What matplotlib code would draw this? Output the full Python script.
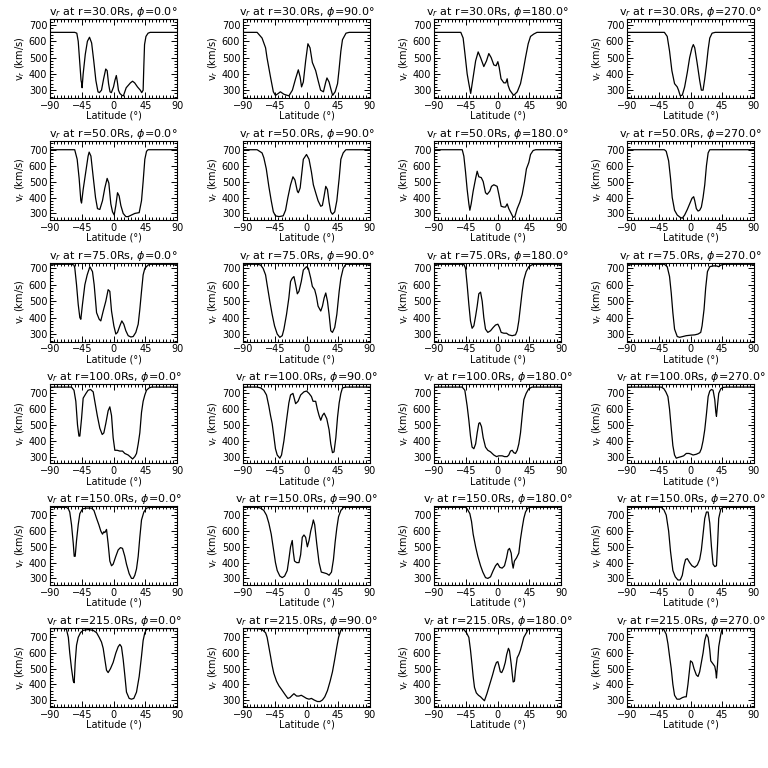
import matplotlib
matplotlib.use('Agg')
import matplotlib.pyplot as plt
from matplotlib.ticker import MultipleLocator

radii = [30.0, 50.0, 75.0, 100.0, 150.0, 215.0]
phis = [0.0, 90.0, 180.0, 270.0]
y_limits = [(252, 737), (260, 756), (254, 735), (257, 757), (257, 757), (255, 760)]
x_ticks = [-90, -45, 0, 45, 90]
y_ticks = [300, 400, 500, 600, 700]

# r = 30 Rs
lat_r30_p0 = [-90,-55,-52,-50,-48,-46,-45,-44.5,-43,-40,-37,-34,-31,-28,-25,-22,-20,-17,-14,-11,-9,-7,-5,-3,0,2,4,5.5,7,9,12,14,16,18,21,24,27,30,34,38,40,42,43,44,46,49,52,90]
v_r30_p0 = [655,655,650,600,480,360,340,315,400,520,600,625,590,480,360,290,285,300,370,430,420,340,290,285,320,360,390,350,300,280,268,265,290,315,330,345,355,345,320,300,285,300,450,580,630,650,655,655]
lat_r30_p90 = [-90,-70,-63,-58,-56,-51,-47,-44,-40,-37,-32,-25,-20,-15.5,-11.6,-9,-7,-4.5,-1.2,2,5,8.3,13,16.4,20,24,27.3,29,32,34.4,37,40.6,44,46,48.7,51,56,60.5,90]
v_r30_p90 = [655,655,620,560,500,380,290,268,280,290,275,265,300,370,425,380,320,350,480,585,560,470,420,360,300,290,350,375,350,310,268,290,340,420,540,610,650,655,655]
lat_r30_p180 = [-90,-52,-48.7,-46.3,-43,-40.6,-38,-34.5,-31,-27.4,-24,-19.4,-15.6,-12.3,-9,-5.2,-2,0.5,2.4,5,9,11.8,13.7,15,17.5,20.8,23,28,32.6,36.4,39.7,43.5,46.8,51.5,56,90]
v_r30_p180 = [655,655,620,530,400,340,280,380,480,535,500,445,480,525,500,455,450,475,440,370,345,345,370,330,300,280,268,290,340,420,500,585,630,645,655,655]
lat_r30_p270 = [-90,-37,-33,-29.7,-26.4,-22.6,-18.8,-17,-14.5,-11.6,-8.3,-4.5,-1.2,2.1,4,6,9.3,13,15.4,17.8,20.2,22.5,25,27.3,30.6,35,90]
v_r30_p270 = [655,655,630,540,420,340,320,300,265,270,320,410,500,560,580,560,470,360,300,300,370,450,550,620,650,655,655]

# r = 50 Rs
lat_r50_p0 = [-90,-55,-51.5,-48.7,-46.3,-45.3,-43,-39,-36,-34.5,-32,-28.8,-25.5,-22.7,-19.4,-15.6,-12.3,-9,-6.6,-3.8,-1.4,1,3.3,5.7,8,10.4,13.7,17.5,20.8,25.5,30.2,36.4,39.7,42,44.4,46.8,49,90]
v_r50_p0 = [700,700,640,520,380,365,450,570,660,685,660,530,400,330,325,380,460,520,490,360,310,290,350,430,410,350,300,280,280,290,300,305,380,500,640,690,700,700]
lat_r50_p90 = [-90,-70,-63,-60.5,-57,-53.4,-50,-47,-44,-39,-33,-29.7,-26.4,-22.6,-19.2,-16.4,-13,-11.6,-9,-7,-4.5,0,3.6,7,9.7,13,16.4,20.2,22.5,25,27.3,29.7,32,34.4,36.8,40,43,46.3,48.7,52,55.8,90]
v_r50_p90 = [700,700,680,650,580,470,380,310,285,280,285,320,400,480,530,510,440,430,460,540,640,670,640,560,480,430,380,345,350,410,470,450,370,310,295,310,380,520,640,680,700,700]
lat_r50_p180 = [-90,-50,-47.7,-45.3,-43,-40.6,-39.2,-37.3,-34.5,-31,-28.8,-26.5,-23,-20.3,-17,-14.6,-10.9,-8.5,-5.2,-0.5,1.9,5.2,9,11.3,13.7,16,19.4,22.2,24.6,27.9,31.6,35,38.3,41,44.4,46.8,50.5,54,90]
v_r50_p180 = [700,700,660,560,450,360,320,360,440,520,565,530,525,500,430,420,440,470,480,470,420,345,340,340,360,330,300,275,280,330,370,420,500,580,620,670,695,700,700]
lat_r50_p270 = [-90,-37,-34.4,-31,-28.3,-25.9,-22.6,-18.8,-14.5,-11.6,-8.3,-4.5,-1.2,2.1,4.5,6,8.3,10.7,13,15.4,17.8,20.2,22.6,25,27.3,90]
v_r50_p270 = [700,700,690,630,520,400,320,290,275,270,290,325,360,395,405,380,330,315,320,340,400,480,600,680,700,700]

# r = 75 Rs
lat_r75_p0 = [-90,-59.5,-56,-54.8,-52.4,-50,-47.7,-46.3,-44,-40.6,-37.3,-33.5,-29.8,-27.4,-24,-20.3,-18,-14.6,-10.9,-7.6,-5.2,-2.8,0.5,3.3,5.7,9,11.8,14.6,17.5,20.8,24.6,27.9,31.6,35,37.3,39.7,42,44.4,49,51.5,90]
v_r75_p0 = [725,725,720,700,600,480,400,390,480,600,660,710,680,600,430,390,380,440,500,570,560,440,350,300,310,350,380,360,320,290,282,285,310,360,450,560,660,700,720,725,725]
lat_r75_p90 = [-90,-70,-65,-61.5,-58,-55.8,-52,-48.7,-45.3,-41.5,-37.8,-34.4,-32,-28.3,-25,-22.6,-20.2,-17.8,-15.4,-13,-10.7,-7.4,-4.5,0,2.6,6,8.3,11.6,14,16.4,20.2,22.6,25,27.3,29.7,32,34.4,36.8,40,43,46.3,48.7,52,55.8,90]
v_r75_p90 = [725,725,720,700,660,600,500,420,350,300,280,290,330,420,520,620,640,650,600,545,560,620,690,710,700,640,590,570,530,470,440,470,520,550,500,420,320,310,340,420,560,640,700,725,725]
lat_r75_p180 = [-90,-47.7,-45.3,-43,-40.6,-38.3,-36,-33.5,-31,-28.8,-26.5,-24,-21.7,-19.4,-17,-13.7,-9.9,-6.1,-2.8,0.5,2.8,5.2,9,12.8,16,20.8,25.5,27.9,30.2,32.6,35,37.3,40.6,44.4,49,51.5,90]
v_r75_p180 = [725,725,700,600,480,380,335,350,410,470,545,555,500,400,330,310,320,340,355,360,340,310,305,305,295,290,295,320,380,470,560,630,680,710,722,725,725]
lat_r75_p270 = [-90,-37,-33,-29.7,-27.3,-25,-22.6,-18.8,-15.4,-10.7,-6,0,6,10.7,14.5,16.4,19.2,21.5,24,27.3,32,36.8,40,43,48.7,90]
v_r75_p270 = [725,725,710,650,550,430,330,285,280,285,290,293,295,300,310,350,450,580,680,710,715,715,710,720,725,725]

# r = 100 Rs
lat_r100_p0 = [-90,-59.5,-56,-53.4,-51,-49,-47.7,-45.3,-43,-39,-36,-32.6,-28.8,-26.5,-23,-19.4,-16,-13.7,-10.9,-7.6,-5.2,-2.8,-0.5,1.9,5.2,9,12.8,16,20.8,24.6,27,30.2,32.6,35,37.3,39.7,42,44.4,46.8,50.5,54,90]
v_r100_p0 = [740,740,720,650,500,430,430,540,670,700,720,725,710,650,560,480,440,450,510,590,615,560,420,340,340,335,335,320,310,295,285,300,320,380,450,580,650,690,720,735,740,740]
lat_r100_p90 = [-90,-70,-65,-60.5,-56.7,-53.4,-51,-48.7,-46.3,-44,-41.5,-37.8,-35.4,-32,-28.3,-25,-22.6,-19.2,-15.4,-12,-8.3,-3.6,0,3.6,7,9.3,13,15.4,17.8,20.2,22.6,25,28.7,32,34.4,36.8,39,41.6,44,46.3,48.7,51,55.8,90]
v_r100_p90 = [740,740,735,720,690,620,560,510,430,350,310,290,310,400,530,640,690,700,635,650,690,710,715,700,680,650,650,600,560,530,560,575,540,470,380,325,330,420,550,640,700,735,740,740]
lat_r100_p180 = [-90,-50,-46.3,-43,-40.6,-38.3,-36,-33.5,-31,-28.8,-26.5,-25,-22.7,-20.3,-17,-13.7,-9.9,-5.2,-1.4,1.9,6.6,9.9,13.7,16,18.4,20.8,23,25.5,27.9,30.2,32.6,35,37.3,40.6,44.4,49,90]
v_r100_p180 = [740,740,720,620,530,430,360,350,380,450,510,515,490,420,360,340,330,310,300,305,305,300,300,310,335,340,325,320,340,380,450,560,660,700,730,740,740]
lat_r100_p270 = [-90,-41.5,-37.8,-35,-32,-29.7,-27.3,-25,-22.6,-20.2,-17,-13,-9.7,-6,-2.1,1.2,3.6,8.3,13,15.4,17.8,20.2,22.6,25,27.3,29.7,32,34.4,35.9,36.8,38.2,40,43,46.3,51,90]
v_r100_p270 = [740,740,730,710,680,600,480,370,310,290,295,300,305,320,320,315,310,315,325,350,400,470,570,680,715,725,720,660,580,555,620,700,730,738,740,740]

# r = 150 Rs
lat_r150_p0 = [-90,-66.6,-64,-62,-59.5,-57,-55.7,-54.3,-52.4,-50,-47.7,-44,-38.3,-31,-27.7,-24,-20.8,-18,-15.6,-13.7,-12.3,-9.9,-7.6,-5.2,-2.8,-0.5,3.3,6.6,9.9,12.8,16,18.4,22.2,25.5,27.9,30.2,32.6,35,37.3,39.7,43,46.8,51.5,90]
v_r150_p0 = [750,750,740,720,640,520,440,440,540,640,710,740,745,745,730,680,640,600,580,595,590,610,520,410,380,390,440,480,495,490,440,390,330,300,300,320,360,440,560,670,720,745,750,750]
lat_r150_p90 = [-90,-70,-65,-60.5,-56.7,-53.4,-50,-47,-44,-41.5,-37.8,-34.4,-31,-27.3,-25,-22.6,-20.2,-18.8,-17,-14,-10.7,-8.3,-6,-3.6,-1.2,1.2,3.6,6,8.3,9.7,11.6,14.5,17.8,21,25,28.7,32,35.4,38.2,40.6,43,45.4,48.7,52.5,90]
v_r150_p90 = [750,750,745,730,700,650,580,490,400,350,315,305,315,350,420,500,540,470,410,400,400,450,560,575,560,500,540,600,640,670,640,520,400,340,335,330,320,340,420,530,620,690,730,750,750]
lat_r150_p180 = [-90,-45.3,-43,-39.2,-36.8,-34.5,-31,-27.9,-24,-20.8,-17,-13.7,-9.9,-6.1,-2.8,0,3.3,6.6,9.9,12.8,15,17,19.4,20.8,22.2,24,27,30.2,32.6,35,37.3,39.7,43,46.8,90]
v_r150_p180 = [750,750,740,710,660,580,500,440,380,340,305,300,310,350,380,395,370,365,380,430,480,490,460,400,365,410,430,460,550,620,680,720,745,750,750]
lat_r150_p270 = [-90,-41.5,-37.8,-34.4,-31,-28.3,-25,-21.6,-17.8,-14.5,-11.6,-9.3,-7,-4.5,-1.2,2.1,6,9.7,13,15.4,17.8,20.2,22.6,25,27.3,29.7,32,34.4,36.8,38.2,40,43,46.3,90]
v_r150_p270 = [750,750,735,700,600,470,350,310,290,290,320,380,420,425,400,380,370,385,420,480,580,680,720,720,650,500,390,375,380,500,680,740,750,750]

# r = 215 Rs
lat_r215_p0 = [-90,-69,-66.6,-64,-62,-59.5,-57,-55.7,-54.3,-52.4,-50,-46.8,-43,-36,-28.8,-24,-20.3,-17,-14.6,-12.3,-9.9,-7.6,-4.3,-0.5,3.3,6.6,9,11.3,13.7,16,18.4,22.2,25.5,28.8,32.6,36.4,39.7,42,44.4,46.8,50.5,90]
v_r215_p0 = [757,757,750,700,600,500,420,410,540,650,700,730,745,750,745,730,700,670,630,560,490,475,500,540,600,640,655,640,560,460,350,310,305,310,350,450,580,680,730,750,757,757]
lat_r215_p90 = [-90,-70,-63,-58,-55.8,-53.4,-51,-48.7,-46.3,-42.5,-39,-35.8,-32,-29.7,-26.4,-23.5,-20.2,-17.8,-14,-10.7,-7.4,-3.6,0,3.6,7,10.7,15.4,19.2,22.6,25.9,29.7,33.5,36.8,40,43,45.4,48.7,51,90]
v_r215_p90 = [757,757,750,730,700,640,580,520,470,420,390,370,345,330,310,315,330,340,325,325,330,320,310,305,310,300,290,290,300,320,360,420,480,560,640,700,745,757,757]
lat_r215_p180 = [-90,-50,-47.7,-44,-40.6,-38.3,-36,-34.5,-32.6,-30,-27,-24,-20.8,-18.5,-15,-11,-7,-4,-1.5,0.5,2,4,6,8.5,11,13,15.5,17,19.4,20.8,22.2,24,25.5,27.9,30.2,32.6,35,37.3,41,44.4,90]
v_r215_p180 = [757,757,750,730,700,620,520,450,380,345,330,320,305,295,340,400,460,510,540,545,520,480,475,500,540,590,630,615,530,470,415,420,490,570,590,620,660,700,730,757,757]
lat_r215_p270 = [-90,-41.5,-37.8,-34.4,-32,-29.7,-27.3,-25,-22.6,-19.2,-15.4,-11.6,-8.3,-6,-3.6,-1.2,0,2.6,5,8.3,10.7,13,15.4,17.8,20.2,22.6,25,27.3,28.7,32,34.4,35.9,36.8,38.2,40,43,45,90]
v_r215_p270 = [757,757,750,720,660,580,500,400,330,305,305,315,320,320,400,500,550,540,500,460,450,480,540,600,680,720,700,620,550,530,515,480,440,520,640,720,757,757]

panels = [
    [(lat_r30_p0, v_r30_p0), (lat_r30_p90, v_r30_p90), (lat_r30_p180, v_r30_p180), (lat_r30_p270, v_r30_p270)],
    [(lat_r50_p0, v_r50_p0), (lat_r50_p90, v_r50_p90), (lat_r50_p180, v_r50_p180), (lat_r50_p270, v_r50_p270)],
    [(lat_r75_p0, v_r75_p0), (lat_r75_p90, v_r75_p90), (lat_r75_p180, v_r75_p180), (lat_r75_p270, v_r75_p270)],
    [(lat_r100_p0, v_r100_p0), (lat_r100_p90, v_r100_p90), (lat_r100_p180, v_r100_p180), (lat_r100_p270, v_r100_p270)],
    [(lat_r150_p0, v_r150_p0), (lat_r150_p90, v_r150_p90), (lat_r150_p180, v_r150_p180), (lat_r150_p270, v_r150_p270)],
    [(lat_r215_p0, v_r215_p0), (lat_r215_p90, v_r215_p90), (lat_r215_p180, v_r215_p180), (lat_r215_p270, v_r215_p270)],
]

W = H = 768.0
col_left = [50, 243, 434, 627]
ax_w = 127
ax_h = 79
row_pitch = 121.8
row_top0 = 19

fig = plt.figure(figsize=(7.68, 7.68), dpi=100)
fig.patch.set_facecolor('white')

for i, r in enumerate(radii):
    for j, p in enumerate(phis):
        top = row_top0 + i * row_pitch
        ax = fig.add_axes([col_left[j] / W, 1 - (top + ax_h) / H, ax_w / W, ax_h / H])
        lat, v = panels[i][j]
        ax.plot(lat, v, color='black', lw=0.9)
        ax.set_xlim(-90, 90)
        ax.set_ylim(*y_limits[i])
        ax.set_xticks(x_ticks)
        ax.set_yticks(y_ticks)
        ax.xaxis.set_minor_locator(MultipleLocator(5))
        ax.yaxis.set_minor_locator(MultipleLocator(20))
        ax.tick_params(which='both', direction='in', top=True, right=True,
                       labelsize=7, width=0.7)
        ax.tick_params(which='major', length=4, pad=2)
        ax.tick_params(which='minor', length=2)
        for s in ax.spines.values():
            s.set_linewidth(0.8)
        ax.set_title(f'v$_r$ at r={r:.1f}Rs, $\\phi$={p:.1f}\u00b0', fontsize=8, pad=2)
        ax.set_xlabel('Latitude (\u00b0)', fontsize=7, labelpad=0)
        ax.set_ylabel('v$_r$ (km/s)', fontsize=7, labelpad=1)

fig.savefig('out.png', dpi=100, facecolor='white')
